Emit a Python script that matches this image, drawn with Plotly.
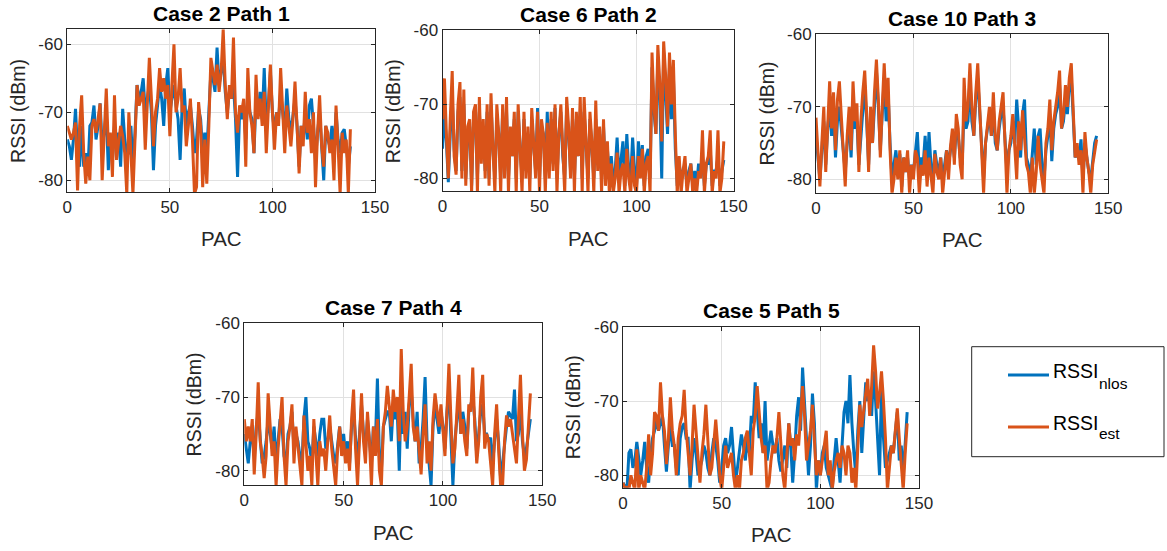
import plotly.graph_objects as go

# ---------------- data ----------------
titles = ["Case 2 Path 1", "Case 6 Path 2", "Case 10 Path 3", "Case 7 Path 4", "Case 5 Path 5"]
x_ticks = [0, 50, 100, 150]
y_ticks = [-80, -70, -60]
y_tick_labels = ["-80", "-70", "-60"]
legend_base = "RSSI"
legend_subs = ["nlos", "est"]

nlos_c2p1 = [-74, -75, -77, -74, -69.5, -76, -78, -72, -78, -76, -79, -72, -71.5, -69, -74, -72, -68.7, -75, -73, -70,
             -78.5, -74, -77, -72, -75, -73, -78, -69.5, -74, -76, -76, -72, -78, -73, -66, -68, -67, -65, -70, -68,
             -66, -70, -78.5, -72, -69, -66, -68, -72, -66, -63.5, -70, -68, -66, -69, -71, -77, -69, -66.5, -72, -70,
             -69, -72, -76, -74, -69.5, -71, -76, -73, -76, -70, -64, -65, -67, -60.5, -66, -64, -62, -67, -70, -67,
             -68, -66, -71, -79.5, -70, -71, -69, -74, -67, -70, -71, -76, -68, -70, -67, -71, -63.5, -72, -69, -64,
             -70, -73, -70, -71, -67, -70, -73, -66.5, -71, -73, -70, -68, -72, -78, -72, -74, -70, -74, -69, -68,
             -72, -77, -73, -70, -75, -80, -72, -74, -75, -72, -76, -70, -74, -76, -73, -72.5, -75, -78, -75]
est_c2p1 = [-72, -73, -74, -73, -71.5, -81.5, -72, -67.5, -76, -80.5, -76.5, -80, -72, -71, -73, -71, -68.7, -80, -72, -66.5,
            -75, -73, -79.5, -67.5, -77, -74, -72, -73.5, -76, -82, -70, -76, -82, -74, -66, -69, -68, -67, -75.5, -68,
            -62, -68, -75, -70, -68, -63.5, -67, -65, -68, -66, -73.5, -66, -60, -70, -68, -63.5, -70, -69, -75, -72,
            -68, -74, -82, -81, -68.5, -72, -81, -74, -80.5, -72, -62, -64, -66, -63, -67, -64, -57.8, -66, -71, -66,
            -68, -59, -70, -73, -69, -70, -68, -78, -63.5, -70, -72, -76, -64.5, -71, -68, -72, -67, -76, -70, -63,
            -70, -75.5, -70, -72, -63.5, -70, -76, -69, -72, -75, -71, -65.5, -72, -79, -72, -75, -67, -73, -71, -76,
            -70, -81, -73, -67.5, -75, -78, -72, -73, -76, -74, -80, -69, -75, -82, -73, -76, -74, -82, -72.5]

nlos_c6p2 = [-76, -71, -75, -80.5, -74, -69, -76, -79, -71, -69, -79, -70, -80, -74, -73, -81, -72, -71, -80, -71,
             -77, -73, -79, -71, -80, -70, -76, -80, -72, -74, -80, -71, -79, -71, -80, -74, -77, -72, -80, -71,
             -76, -80, -72, -79, -74, -80, -72, -75, -79, -70.5, -80, -73, -74, -80, -71, -79, -72, -78, -70.5, -80,
             -74, -71, -77, -80, -70.5, -74, -79, -72, -80, -72, -77, -71, -80, -71, -75, -80, -72, -76, -80, -72,
             -78, -74, -80, -73, -79, -76, -80, -77, -80.5, -79, -74.5, -80, -77, -75, -81, -74, -79, -80, -74.5, -79,
             -81, -75, -79, -75.5, -81, -77, -76, -80, -65, -71, -74, -64, -69, -80, -63, -68, -74, -65, -72, -66,
             -76, -81, -78, -80, -79, -78, -81, -79, -78, -81, -79, -81, -78, -79, -77, -81, -78, -78, -76, -81,
             -79, -79, -77, -81, -79, -77.5]
est_c6p2 = [-72, -66.5, -74, -80, -72, -65.5, -77, -79.5, -70, -67, -80, -68, -81, -73, -72, -82, -71, -70, -82, -69,
            -78, -72, -80, -70, -81, -68.5, -76, -82, -70, -74, -82, -70, -80, -69, -82, -73, -77, -71, -82, -70,
            -76, -82, -71, -80, -73, -82, -70.5, -75, -80, -71, -82, -72, -74, -82, -72.5, -80, -71, -79, -70, -82,
            -74, -70, -77, -82, -69, -73, -80, -70.5, -82, -71, -77, -69, -82, -69, -75, -82, -71, -75, -82, -69.5,
            -79, -73, -82, -72, -81, -75, -82, -78, -82, -80, -76.5, -82, -79, -78, -82, -76, -80, -82, -77, -81,
            -82, -77, -80, -76, -82, -78, -77, -82, -63, -70, -74, -62, -67, -75, -61.5, -66, -73, -63, -70, -64,
            -74, -82, -77, -82, -79, -77, -82, -80, -78, -82, -80, -82, -79, -80, -73.5, -82, -78, -77, -73.5, -82,
            -79, -80, -73.5, -82, -80, -75]

nlos_c10p3 = [-74, -77, -80, -76, -72, -78, -73, -70, -74, -70, -77, -72, -70, -73, -76, -79, -75, -72, -77, -70,
              -73, -72, -78, -74, -70, -67, -72, -78, -71, -75, -70, -65, -70, -76, -71, -66, -72, -68, -75, -80,
              -78, -76, -79, -76.5, -81, -77, -79, -77, -80, -78, -79, -76, -73.5, -79, -77, -78, -74, -79, -73.5, -78,
              -80, -76, -78, -79, -77, -80, -78, -76, -78, -76, -74, -77, -73, -74, -77, -78, -70, -73, -72, -66,
              -72, -74, -69, -66, -71, -76, -80, -75, -73, -71, -74, -70, -75, -76, -73, -71, -70, -75, -79, -76,
              -75, -72, -75, -69, -73, -77, -71, -69, -77, -78, -80, -76, -73, -78, -74, -73, -78, -80, -76, -74,
              -71, -77.5, -73, -71, -70, -67, -73, -72, -69, -71, -67, -66, -72, -77, -76, -77, -74.5, -80, -75, -77,
              -79, -80, -77, -75, -74]
est_c10p3 = [-71.5, -76, -81, -75, -70, -79, -72, -66.5, -73, -68, -76, -69, -66.5, -72, -77, -81, -74, -70, -76, -66.5,
             -72, -69.5, -79, -72, -68, -65, -71, -79, -70, -75, -68, -63.5, -69, -77, -70, -64, -70, -66, -76, -82,
             -80, -77, -80, -76, -82, -77, -79, -76, -82, -78, -80, -76, -77, -82, -78, -79.5, -76, -81, -77, -80,
             -82, -76.5, -79, -80, -77, -82, -79, -76, -80, -75.5, -73, -78, -71, -73, -78, -80, -66, -72, -70, -64,
             -70, -74, -68, -64, -70, -76, -82, -75, -72, -70, -74, -68, -74, -76, -72, -70, -68, -75, -82, -76,
             -74, -71, -76, -80, -72, -76, -70.5, -75, -78, -79, -82, -77, -82, -79, -74, -78, -80, -82, -75, -73,
             -69, -76, -72, -70, -68, -65, -73, -71, -67, -70, -66, -64, -70, -77, -75, -78, -76, -82, -73.5, -77,
             -79, -82, -78, -76, -74.5]

nlos_c7p4 = [-75, -77, -79, -76, -75, -78, -74, -72, -76, -79, -78, -76, -73, -75, -77, -74, -79, -76, -73, -74,
             -78, -79, -75, -74, -72, -77, -75, -76, -78, -79, -73, -70, -76, -77, -79, -74, -76, -78, -75, -73,
             -73, -77, -76, -74, -76, -78, -79, -76, -74, -77, -75, -78, -76, -79, -74, -72, -76, -79, -75, -71,
             -75, -77, -73, -76, -79, -74, -76, -67.5, -78, -80, -74, -73, -72, -72, -76, -71, -73, -72, -80, -69,
             -75, -72, -77, -71, -69, -73, -76, -72, -79, -77, -73, -67.3, -76, -79, -82, -74, -71, -73, -75, -72,
             -74, -77, -72, -69, -76, -82, -76, -73, -70, -75, -72, -74, -77, -72, -71, -70, -73, -78, -75, -72,
             -71, -75, -75, -76, -75.5, -79, -76, -73, -76, -81, -79, -76, -74, -72, -72.5, -73, -69, -76, -75, -71,
             -76, -78, -77, -75, -73]
est_c7p4 = [-73, -76, -74, -76, -73, -80.5, -75, -68, -76, -78, -81, -78, -69.5, -74, -78, -76, -82, -77, -73, -70,
            -78, -82, -76, -74, -71, -79, -74, -77, -80, -82, -72.5, -76, -80, -78, -82, -73, -77, -82, -76, -78,
            -77, -80, -76, -72.5, -77, -80, -82, -77, -74, -78, -76, -79, -77, -80, -73, -69, -77, -82, -75, -69.5,
            -76, -79, -72, -76, -82, -74, -78, -73, -80, -82, -74, -72, -68.5, -71, -74, -69, -72, -70, -76, -63.5,
            -72, -76, -74, -70, -65.5, -74, -76, -74, -77, -80.5, -75, -71, -79, -76, -80, -73, -69.5, -72, -74, -71,
            -75, -78, -72, -65.5, -73, -79, -77, -72, -67, -75, -73, -76, -78, -71, -72, -66, -74, -79, -76, -70,
            -67, -77, -75, -76, -79, -82, -75, -71, -77, -82, -82, -76, -72.5, -74, -73, -75, -77, -79, -73, -67,
            -75, -80, -78.5, -74, -69.5]

nlos_c5p5 = [-81, -81.5, -82, -77, -76.5, -79, -78, -75.5, -78, -80, -78, -75.5, -79, -81, -77, -75, -74, -72.5, -74, -73,
             -72, -76, -79.5, -76, -73, -76, -76, -79, -80, -75, -73.5, -73, -75, -75, -82, -78, -75, -77, -80, -79,
             -78, -76, -77, -79, -80, -77, -75, -76, -78, -81, -79, -76, -75, -77, -76, -73.5, -78, -81, -79, -77,
             -74.5, -76, -78, -75, -77, -72, -73, -67.5, -71, -75, -73, -77, -70, -78, -76, -74, -76, -77, -75, -78,
             -79.5, -78, -76, -79, -73, -76, -81, -77, -72, -69.5, -74, -65.5, -70, -74, -80, -76, -69, -73, -82, -78,
             -80, -77, -76, -79, -80, -81, -82, -78, -75, -78, -81, -76, -71.5, -70, -73, -66.5, -73, -77, -80, -74,
             -70, -77, -72, -67.5, -70, -69, -72, -66, -70, -75, -80, -68, -75, -79, -78, -77, -76, -77, -74, -71.5,
             -78, -76, -80, -75, -71.5]
est_c5p5 = [-81, -82, -81.5, -82, -80, -81, -82, -76.5, -82, -80, -81, -82, -79, -74.5, -80, -77, -71.5, -72, -74, -67.5,
            -72, -74, -78.5, -75, -69.5, -74, -76, -80, -75, -73, -72, -68.5, -74, -77, -80, -76, -70.5, -74, -78, -81,
            -77, -74.5, -70.5, -76, -80, -79, -75, -72.5, -76, -80, -82, -79, -76, -79, -78, -77, -80, -82, -80, -82,
            -78, -77, -75, -74, -77, -80, -74, -72, -68, -72, -75, -77, -76, -82, -81, -78, -76, -77, -75, -71.5,
            -76, -80, -82, -78, -73, -76, -75, -78, -74.5, -76, -71.5, -68, -72, -78, -76, -74, -70.5, -76, -80, -78,
            -80, -78, -76, -74, -80, -78, -82, -79.5, -78, -77, -79, -76, -77, -80, -76, -77, -81, -79, -82, -76,
            -70.5, -73.5, -71, -69, -67, -72, -68, -62.5, -66, -71, -69, -66, -70, -75, -82, -79, -76, -77, -74, -71,
            -75, -79, -82, -77, -73]

nlos_series = [nlos_c2p1, nlos_c6p2, nlos_c10p3, nlos_c7p4, nlos_c5p5]
est_series = [est_c2p1, est_c6p2, est_c10p3, est_c7p4, est_c5p5]

# ---------------- layout (pixel geometry of the reference) ----------------
W, H = 1167, 551
BLUE = "#0072BD"
ORANGE = "#D95319"
AX = "#262626"
FONT = "Liberation Sans, Arial, Helvetica, sans-serif"

# (left, right, top, bottom) in px, and y range
boxes = [
    (67.3, 375.0, 29.3, 192.0, [-81.72, -57.8]),
    (442.5, 733.5, 30.3, 191.0, [-81.7, -60.0]),
    (816.0, 1108.3, 34.3, 192.7, [-81.85, -60.0]),
    (244.3, 542.3, 323.3, 485.0, [-81.93, -60.0]),
    (623.0, 919.0, 326.7, 487.7, [-81.67, -60.0]),
]


def fx(p):
    return p / W


def fy(p):
    return 1 - p / H


fig = go.Figure()
annotations = []
shapes = []

for i, (l, r, t, b, yr) in enumerate(boxes):
    n = i + 1
    xa = "x" if n == 1 else f"x{n}"
    ya = "y" if n == 1 else f"y{n}"
    nl = nlos_series[i]
    es = est_series[i]
    fig.add_trace(go.Scatter(x=list(range(len(nl))), y=nl, mode="lines",
                             line=dict(color=BLUE, width=3), xaxis=xa, yaxis=ya,
                             showlegend=False, name="RSSI nlos"))
    fig.add_trace(go.Scatter(x=list(range(len(es))), y=es, mode="lines",
                             line=dict(color=ORANGE, width=3), xaxis=xa, yaxis=ya,
                             showlegend=False, name="RSSI est"))
    common = dict(showline=True, linecolor=AX, linewidth=1, mirror="ticks",
                  ticks="inside", ticklen=4, tickcolor=AX, showgrid=True,
                  gridcolor="#e1e1e1", gridwidth=1, zeroline=False, automargin=False,
                  tickfont=dict(family=FONT, size=17, color=AX))
    xkey = "xaxis" if n == 1 else f"xaxis{n}"
    ykey = "yaxis" if n == 1 else f"yaxis{n}"
    fig.layout[xkey] = dict(domain=[fx(l), fx(r)], anchor=ya, range=[0, 150],
                            tickvals=x_ticks, **common)
    fig.layout[ykey] = dict(domain=[fy(b), fy(t)], anchor=xa, range=yr,
                            tickvals=y_ticks, ticktext=y_tick_labels, **common)
    # title
    annotations.append(dict(text=f"<b>{titles[i]}</b>", x=fx((l + r) / 2), y=fy(t - 16),
                            xref="paper", yref="paper", showarrow=False,
                            xanchor="center", yanchor="middle",
                            font=dict(family=FONT, size=21, color="#000000")))
    # x label
    annotations.append(dict(text="PAC", x=fx((l + r) / 2), y=fy(b + 47),
                            xref="paper", yref="paper", showarrow=False,
                            xanchor="center", yanchor="middle",
                            font=dict(family=FONT, size=20.5, color=AX)))
    # y label
    annotations.append(dict(text="RSSI (dBm)", x=fx(l - 50), y=fy((t + b) / 2),
                            xref="paper", yref="paper", showarrow=False, textangle=-90,
                            xanchor="center", yanchor="middle",
                            font=dict(family=FONT, size=19.5, color=AX)))

# legend box drawn manually
shapes.append(dict(type="rect", xref="paper", yref="paper",
                   x0=fx(971.7), x1=fx(1164), y0=fy(456.7), y1=fy(346.7),
                   line=dict(color=AX, width=1), fillcolor="white", layer="above"))
legend_rows = [(375, BLUE, 370.5, 383.5, legend_subs[0]), (427, ORANGE, 423.2, 433.5, legend_subs[1])]
for (yy, col, ybase, ysub, sub) in legend_rows:
    shapes.append(dict(type="line", xref="paper", yref="paper",
                       x0=fx(1008), x1=fx(1049), y0=fy(yy), y1=fy(yy),
                       line=dict(color=col, width=3), layer="above"))
    annotations.append(dict(text=legend_base, x=fx(1051), y=fy(ybase), xref="paper", yref="paper",
                            showarrow=False, xanchor="left", yanchor="middle",
                            font=dict(family=FONT, size=19.5, color="#000000")))
    annotations.append(dict(text=sub, x=fx(1097), y=fy(ysub), xref="paper", yref="paper",
                            showarrow=False, xanchor="left", yanchor="middle",
                            font=dict(family=FONT, size=15.5, color="#000000")))

fig.update_layout(width=W, height=H, margin=dict(l=0, r=0, t=0, b=0, autoexpand=False),
                  paper_bgcolor="white", plot_bgcolor="white",
                  annotations=annotations, shapes=shapes, showlegend=False)

fig.write_html("out.html", config={"displayModeBar": False},
               post_script="document.body.style.margin='0';document.body.style.overflow='hidden';")
